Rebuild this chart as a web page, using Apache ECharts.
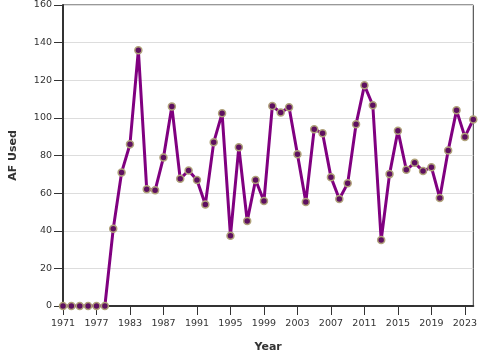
<!DOCTYPE html>
<html><head><meta charset="utf-8">
<script src="https://cdn.jsdelivr.net/npm/echarts@6/dist/echarts.min.js"></script>
<style>html,body{margin:0;padding:0;background:#fff}#c{width:480px;height:360px}</style>
</head><body><div id="c"></div>
<script>
const years = ['1971','1973','1974','1976','1977','1979','1981','1982','1983','1984','1985','1986','1987','1988','1989','1990','1991','1992','1993','1994','1995','1996','1997','1998','1999','2000','2001','2002','2003','2004','2005','2006','2007','2008','2009','2010','2011','2012','2013','2014','2015','2016','2017','2018','2019','2020','2021','2022','2023','2024'];
const afUsed = [0,0,0,0,0,0,41,71,86,136,62,61.5,79,106,67.6,72,67,54,87,102.4,37.3,84.4,45.2,67,55.8,106.3,102.8,105.6,80.7,55.3,94,91.8,68.5,56.9,65.2,96.6,117.3,106.7,35.1,70.1,93.2,72.4,76.1,71.7,73.8,57.4,82.6,104,89.9,99.2];
const yTicks = {min:0, max:160, interval:20};

const chart = echarts.init(document.getElementById('c'), null, {renderer:'canvas'});
chart.setOption({
  animation:false,
  backgroundColor:'#fff',
  grid:{left:63, right:4.5, top:4, bottom:54, show:true, borderColor:'#333', borderWidth:1},
  xAxis:{
    type:'category', data:years, boundaryGap:false,
    name:'Year', nameLocation:'middle', nameGap:36,
    nameTextStyle:{fontFamily:'DejaVu Sans', fontWeight:'bold', fontSize:11, color:'#333'},
    axisLine:{lineStyle:{color:'#333', width:2}},
    axisTick:{interval:3, length:9, lineStyle:{color:'#333', width:1}},
    axisLabel:{interval:3, fontFamily:'DejaVu Sans', fontSize:9.5, color:'#333', margin:13},
    splitLine:{show:false}
  },
  yAxis:{
    type:'value', min:yTicks.min, max:yTicks.max, interval:yTicks.interval,
    name:'AF Used', nameLocation:'middle', nameGap:44, nameRotate:90,
    nameTextStyle:{fontFamily:'DejaVu Sans', fontWeight:'bold', fontSize:11, color:'#333'},
    axisLine:{show:true, lineStyle:{color:'#333', width:2}},
    axisTick:{show:true, length:9, lineStyle:{color:'#333', width:1}},
    axisLabel:{fontFamily:'DejaVu Sans', fontSize:9.5, color:'#333', margin:11},
    splitLine:{lineStyle:{color:'#ddd', width:1}}
  },
  series:[{
    type:'line', data:afUsed, showAllSymbol:true,
    lineStyle:{color:'#800080', width:3},
    symbol:'circle', symbolSize:7,
    itemStyle:{color:'#5e1060', borderColor:'#b0a27a', borderWidth:1.5},
    z:3
  }]
});
</script></body></html>
